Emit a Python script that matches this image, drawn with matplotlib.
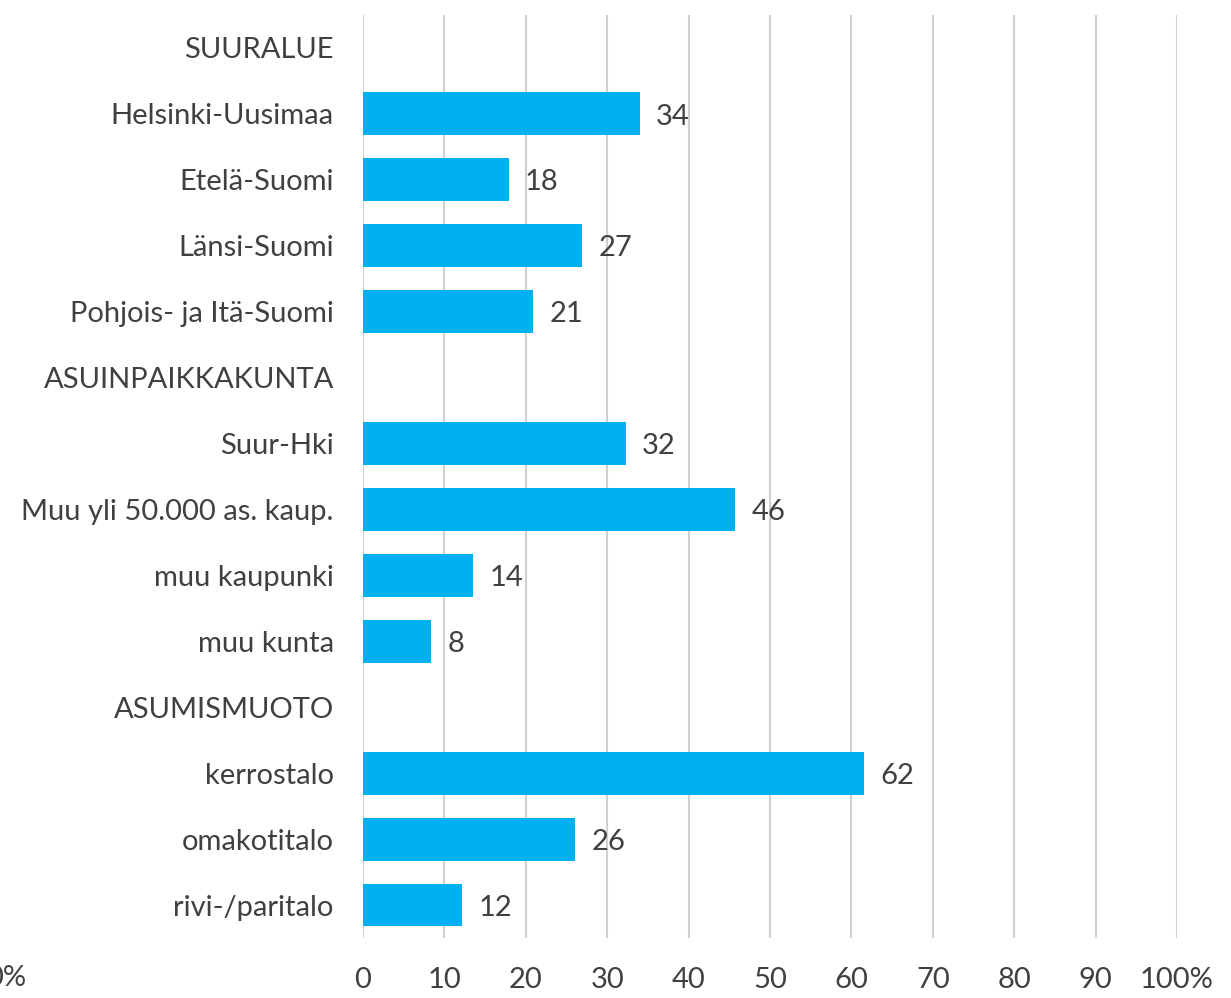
import matplotlib
matplotlib.use("Agg")
import matplotlib.pyplot as plt

categories = ["SUURALUE", "Helsinki-Uusimaa", "Etelä-Suomi", "Länsi-Suomi",
              "Pohjois- ja Itä-Suomi", "ASUINPAIKKAKUNTA", "Suur-Hki",
              "Muu yli 50.000 as. kaup.", "muu kaupunki", "muu kunta",
              "ASUMISMUOTO", "kerrostalo", "omakotitalo", "rivi-/paritalo"]
values = [None, 34.0, 17.9, 26.9, 20.9, None, 32.3, 45.7, 13.5, 8.4,
          None, 61.6, 26.1, 12.2]
value_labels = [None, "34", "18", "27", "21", None, "32", "46", "14", "8",
                None, "62", "26", "12"]
x_ticks = [0, 10, 20, 30, 40, 50, 60, 70, 80, 90, 100]
x_tick_labels = ["0", "10", "20", "30", "40", "50", "60", "70", "80", "90", "100%"]

plt.rcParams['font.family'] = ['Lato', 'DejaVu Sans']
text_color = "#404040"
bar_color = "#00B0F0"
fs = 21

fig = plt.figure(figsize=(12.31, 9.98), dpi=100)
ax = fig.add_axes([363/1231, 1-938/998, (1177-363)/1231, (938-15)/998])

ys = list(range(len(categories)))
for y, v, lab in zip(ys, values, value_labels):
    if v is None:
        continue
    ax.barh(y, v, height=0.65, color=bar_color, zorder=3)
    ax.text(v + 2.0, y + 0.04, lab, va="center", ha="left",
            fontsize=fs, color=text_color)

ax.set_ylim(len(categories) - 0.5, -0.5)
ax.set_xlim(0, 100)
ax.set_yticks(ys)
ax.set_yticklabels(categories, fontsize=fs, color=text_color)
ax.set_xticks(x_ticks)
ax.set_xticklabels(x_tick_labels, fontsize=fs, color=text_color)
ax.tick_params(axis="y", length=0, pad=21)
ax.tick_params(axis="x", length=0, pad=21)
ax.grid(axis="x", color="#d0d0d0", linewidth=1.5, zorder=0)
for s in ax.spines.values():
    s.set_visible(False)

fig.text(-14/1231, 1-978/998, "0%", fontsize=fs, color=text_color,
         va="center", ha="left")

fig.savefig("out.png", dpi=100, facecolor="white")
